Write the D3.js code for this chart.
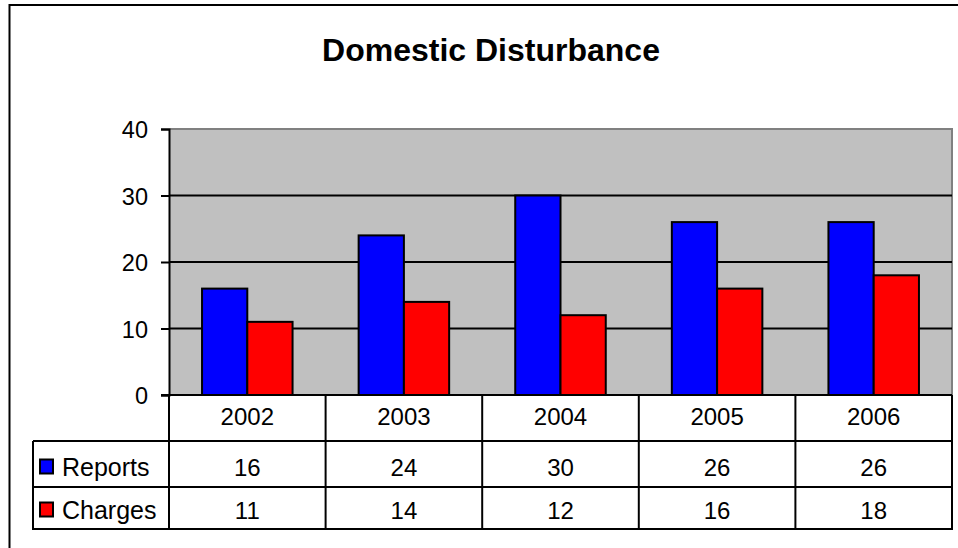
<!DOCTYPE html>
<html>
<head>
<meta charset="utf-8">
<script src="https://cdn.jsdelivr.net/npm/d3@7"></script>
<style>
  html, body { margin: 0; padding: 0; background: #fff; }
  svg { display: block; font-family: "Liberation Sans", Arial, sans-serif; }
</style>
</head>
<body>
<svg id="chart" width="958" height="548"></svg>
<script>
// ---- data ----
const title = "Domestic Disturbance";
const categories = ["2002", "2003", "2004", "2005", "2006"];
const seriesNames = ["Reports", "Charges"];
const reports = [16, 24, 30, 26, 26];
const charges = [11, 14, 12, 16, 18];
const seriesColors = ["#0000FF", "#FF0000"];
const yTicks = [0, 10, 20, 30, 40];

const seriesValues = [reports, charges];

// ---- layout ----
const svg = d3.select("#chart");
const plot = { left: 169, right: 952, top: 129, bottom: 395 };
const tableLeft = 33;
const headerBottom = 441;
const rowBottoms = [487, 529];
const rowBaselines = [475.5, 518.5];
const headerBaseline = 425;

// frame
svg.append("rect")
  .attr("x", 9.5).attr("y", 5)
  .attr("width", 970).attr("height", 570)
  .attr("fill", "#fff").attr("stroke", "#000").attr("stroke-width", 2);

// title
svg.append("text")
  .attr("x", 491).attr("y", 61)
  .attr("text-anchor", "middle")
  .attr("font-size", 32).attr("font-weight", "bold")
  .attr("fill", "#000")
  .text(title);

// scales
const x0 = d3.scaleBand().domain(categories).range([plot.left, plot.right]).paddingInner(0).paddingOuter(0);
const x1 = d3.scaleBand().domain(seriesNames).range([0, x0.bandwidth()]).paddingInner(0).paddingOuter(0.73);
const y = d3.scaleLinear().domain([0, 40]).range([plot.bottom, plot.top]);

// plot area background
svg.append("rect")
  .attr("x", plot.left).attr("y", plot.top)
  .attr("width", plot.right - plot.left).attr("height", plot.bottom - plot.top)
  .attr("fill", "#C0C0C0");
// gray top/right border
svg.append("path")
  .attr("d", `M${plot.left},${plot.top}H${plot.right}V${plot.bottom}`)
  .attr("fill", "none").attr("stroke", "#808080").attr("stroke-width", 2);

// gridlines
svg.append("g").selectAll("line")
  .data(yTicks.filter(t => t > 0 && t < 40))
  .join("line")
  .attr("x1", plot.left).attr("x2", plot.right)
  .attr("y1", d => y(d)).attr("y2", d => y(d))
  .attr("stroke", "#000").attr("stroke-width", 2);

// y axis
const yAxis = d3.axisLeft(y).tickValues(yTicks).tickSize(8).tickPadding(13).tickFormat(d3.format("d"));
const yg = svg.append("g").attr("transform", `translate(${plot.left},0)`).call(yAxis);
yg.select(".domain").attr("stroke", "#000").attr("stroke-width", 2);
yg.selectAll(".tick line").attr("stroke", "#000").attr("stroke-width", 2);
yg.selectAll(".tick text")
  .attr("font-size", 23.5).attr("fill", "#000")
  .attr("font-family", "Liberation Sans, Arial, sans-serif")
  .attr("dy", "0.37em");

// bars
const groups = svg.append("g").selectAll("g")
  .data(categories)
  .join("g")
  .attr("transform", d => `translate(${x0(d)},0)`);
groups.selectAll("rect")
  .data((d, i) => seriesNames.map((s, j) => ({ s, j, v: seriesValues[j][i] })))
  .join("rect")
  .attr("x", d => x1(d.s))
  .attr("y", d => y(d.v))
  .attr("width", x1.bandwidth())
  .attr("height", d => y(0) - y(d.v))
  .attr("fill", d => seriesColors[d.j])
  .attr("stroke", "#000").attr("stroke-width", 2);

// zero line
svg.append("line")
  .attr("x1", plot.left - 8).attr("x2", plot.right)
  .attr("y1", y(0)).attr("y2", y(0))
  .attr("stroke", "#000").attr("stroke-width", 2);

// ---- data table ----
const tg = svg.append("g");
const lineAttrs = sel => sel.attr("stroke", "#000").attr("stroke-width", 2);

// horizontal lines
tg.append("line").attr("x1", tableLeft).attr("x2", plot.right + 1)
  .attr("y1", headerBottom).attr("y2", headerBottom).call(lineAttrs);
rowBottoms.forEach(b => {
  tg.append("line").attr("x1", tableLeft).attr("x2", plot.right + 1)
    .attr("y1", b).attr("y2", b).call(lineAttrs);
});
// vertical lines: left of legend column
tg.append("line").attr("x1", tableLeft).attr("x2", tableLeft)
  .attr("y1", headerBottom).attr("y2", rowBottoms[1] + 1).call(lineAttrs);
// category dividers
const dividers = categories.map(c => x0(c)).concat([x0(categories[categories.length - 1]) + x0.bandwidth()]);
tg.selectAll("line.div")
  .data(dividers)
  .join("line")
  .attr("class", "div")
  .attr("x1", d => d).attr("x2", d => d)
  .attr("y1", plot.bottom).attr("y2", rowBottoms[1] + 1)
  .call(lineAttrs);

// header labels
tg.selectAll("text.cat")
  .data(categories)
  .join("text")
  .attr("class", "cat")
  .attr("x", d => x0(d) + x0.bandwidth() / 2)
  .attr("y", headerBaseline)
  .attr("text-anchor", "middle")
  .attr("font-size", 24).attr("fill", "#000")
  .text(d => d);

// value rows
seriesNames.forEach((s, j) => {
  tg.selectAll(`text.val${j}`)
    .data(seriesValues[j])
    .join("text")
    .attr("class", `val${j}`)
    .attr("x", (d, i) => x0(categories[i]) + x0.bandwidth() / 2)
    .attr("y", rowBaselines[j])
    .attr("text-anchor", "middle")
    .attr("font-size", 24).attr("fill", "#000")
    .text(d => d);
  // legend key
  tg.append("rect")
    .attr("x", 40).attr("y", rowBaselines[j] - 16)
    .attr("width", 13).attr("height", 14)
    .attr("fill", seriesColors[j])
    .attr("stroke", "#000").attr("stroke-width", 2);
  tg.append("text")
    .attr("x", 62).attr("y", rowBaselines[j])
    .attr("font-size", 25).attr("fill", "#000")
    .text(s);
});
</script>
</body>
</html>
